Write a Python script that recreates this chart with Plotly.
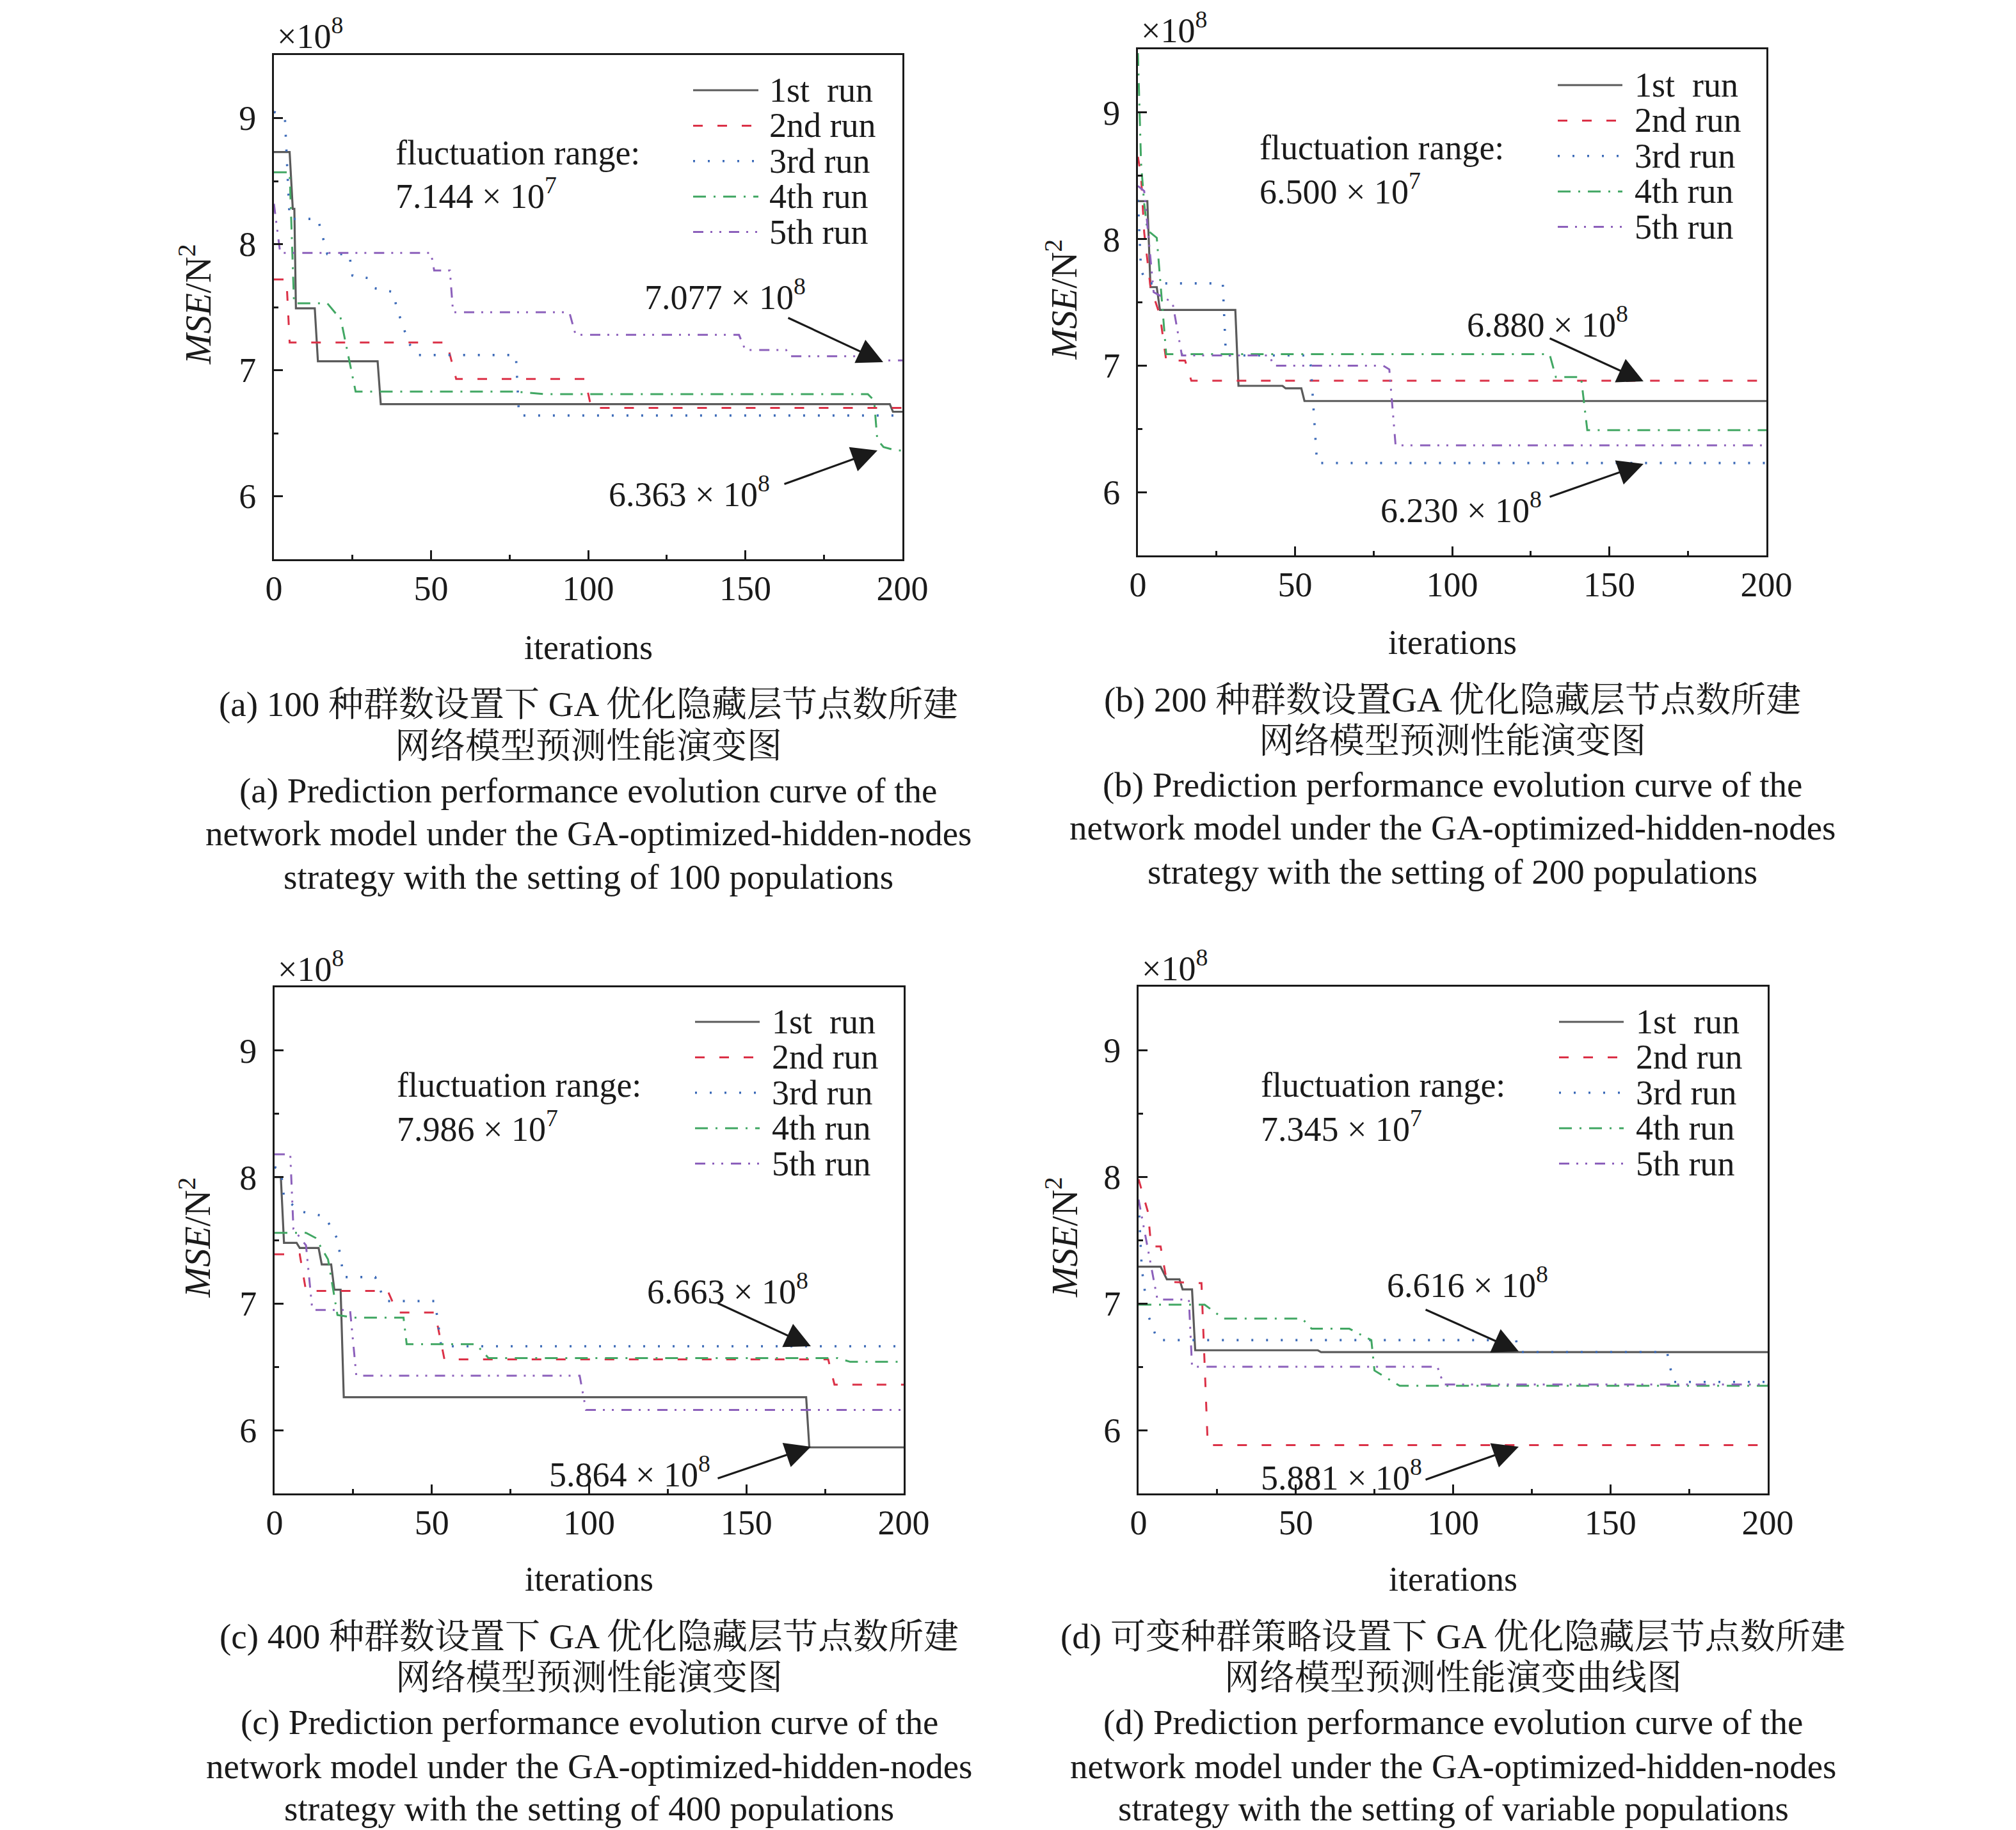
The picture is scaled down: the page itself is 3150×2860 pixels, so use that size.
import plotly.graph_objects as go

# ---------------- data (MSE in units of 1e8 N^2) ----------------
RUN_NAMES = ["1st\u00a0 run", "2nd run", "3rd run", "4th run", "5th run"]

# panel (a): 100 populations
a1_it = [0, 5, 6, 6.5, 7, 13, 14, 33, 34, 196, 197, 200]
a1_v = [8.73, 8.73, 8.28, 8.28, 7.49, 7.49, 7.07, 7.07, 6.73, 6.73, 6.67, 6.67]
a2_it = [0, 4, 5, 55, 58, 99, 101, 200]
a2_v = [7.72, 7.72, 7.22, 7.22, 6.93, 6.93, 6.70, 6.70]
a3_it = [0, 3.5, 5, 14, 17, 24, 25, 30, 32, 36, 38, 39, 43, 46, 77, 78, 200]
a3_v = [9.05, 9.00, 8.20, 8.20, 7.92, 7.92, 7.75, 7.73, 7.65, 7.63, 7.62, 7.50, 7.21, 7.12, 7.12, 6.64, 6.64]
a4_it = [0, 5, 6.4, 17, 20, 21, 26, 77, 86, 189, 191, 192, 194, 198, 200]
a4_v = [8.57, 8.57, 7.53, 7.53, 7.44, 7.44, 6.83, 6.83, 6.81, 6.81, 6.76, 6.45, 6.39, 6.363, 6.363]
a5_it = [0, 2, 50, 51, 56, 57, 94, 96, 148, 150, 163, 164, 187, 191, 200]
a5_v = [8.32, 7.93, 7.93, 7.79, 7.79, 7.46, 7.46, 7.28, 7.28, 7.16, 7.16, 7.11, 7.11, 7.077, 7.077]

# panel (b): 200 populations
b1_it = [0, 3, 4, 6, 7, 31, 32, 46, 47, 52, 53, 200]
b1_v = [8.30, 8.30, 7.62, 7.62, 7.44, 7.44, 6.84, 6.84, 6.82, 6.82, 6.72, 6.72]
b2_it = [0, 1, 2, 4, 7, 9, 15, 17, 200]
b2_v = [8.65, 8.50, 8.05, 7.62, 7.40, 7.04, 7.04, 6.88, 6.88]
b3_it = [0, 1, 3, 27, 28, 54, 55, 57, 200]
b3_v = [8.31, 7.75, 7.65, 7.65, 7.08, 7.08, 7.00, 6.23, 6.23]
b4_it = [0, 1, 2, 3, 6, 9, 131, 133, 141, 143, 200]
b4_v = [9.47, 8.60, 8.28, 8.07, 8.01, 7.09, 7.09, 6.91, 6.91, 6.49, 6.49]
b5_it = [0, 2, 5, 11, 14, 42, 43, 78, 80, 82, 200]
b5_v = [8.42, 8.38, 7.58, 7.50, 7.08, 7.08, 7.00, 7.00, 6.97, 6.37, 6.37]

# panel (c): 400 populations
c1_it = [0, 2, 3, 7, 8, 14, 15, 18, 19, 21, 22, 169, 170, 200]
c1_v = [8.00, 8.00, 7.48, 7.48, 7.44, 7.44, 7.31, 7.31, 7.11, 7.11, 6.26, 6.26, 5.864, 5.864]
c2_it = [0, 8, 10, 36, 39, 51, 54, 176, 178, 200]
c2_v = [7.39, 7.39, 7.10, 7.10, 6.93, 6.93, 6.56, 6.56, 6.36, 6.36]
c3_it = [0, 2, 3, 8, 16, 20, 22, 32, 35, 51, 53, 200]
c3_v = [8.08, 8.05, 7.84, 7.73, 7.69, 7.51, 7.21, 7.21, 7.02, 7.02, 6.663, 6.663]
c4_it = [0, 10, 13, 17, 20, 25, 41, 42, 64, 68, 179, 183, 200]
c4_v = [7.56, 7.56, 7.52, 7.35, 6.91, 6.89, 6.89, 6.68, 6.68, 6.57, 6.57, 6.54, 6.54]
c5_it = [0, 5, 6, 10, 12, 24, 26, 97, 99, 200]
c5_v = [8.18, 8.18, 7.59, 7.46, 6.95, 6.95, 6.43, 6.43, 6.16, 6.16]

# panel (d): variable populations
d1_it = [0, 7, 9, 13, 14, 17, 18, 57, 58, 200]
d1_v = [7.29, 7.29, 7.19, 7.19, 7.11, 7.11, 6.63, 6.63, 6.616, 6.616]
d2_it = [0, 3, 4, 7, 9, 20, 22, 200]
d2_v = [7.98, 7.72, 7.45, 7.45, 7.17, 7.16, 5.881, 5.881]
d3_it = [0, 1, 3, 6, 120, 121, 168, 170, 200]
d3_v = [7.81, 7.28, 6.91, 6.71, 6.71, 6.616, 6.616, 6.38, 6.38]
d4_it = [0, 21, 27, 52, 55, 67, 74, 75, 83, 200]
d4_v = [6.99, 6.99, 6.88, 6.88, 6.80, 6.80, 6.71, 6.47, 6.35, 6.35]
d5_it = [0, 4, 6, 16, 17, 95, 97, 200]
d5_v = [7.82, 7.29, 7.03, 7.03, 6.50, 6.50, 6.36, 6.36]

X_TICKS = [0, 50, 100, 150, 200]
Y_TICKS = [6, 7, 8, 9]

FLUCT = ["7.144", "6.500", "7.986", "7.345"]
MAX_LABEL = ["7.077", "6.880", "6.663", "6.616"]
MIN_LABEL = ["6.363", "6.230", "5.864", "5.881"]

CAPTIONS = [
    ["(a) 100 种群数设置下 GA 优化隐藏层节点数所建", "网络模型预测性能演变图",
     "(a) Prediction performance evolution curve of the",
     "network model under the GA-optimized-hidden-nodes",
     "strategy with the setting of 100 populations"],
    ["(b) 200 种群数设置GA 优化隐藏层节点数所建", "网络模型预测性能演变图",
     "(b) Prediction performance evolution curve of the",
     "network model under the GA-optimized-hidden-nodes",
     "strategy with the setting of 200 populations"],
    ["(c) 400 种群数设置下 GA 优化隐藏层节点数所建", "网络模型预测性能演变图",
     "(c) Prediction performance evolution curve of the",
     "network model under the GA-optimized-hidden-nodes",
     "strategy with the setting of 400 populations"],
    ["(d) 可变种群策略设置下 GA 优化隐藏层节点数所建", "网络模型预测性能演变曲线图",
     "(d) Prediction performance evolution curve of the",
     "network model under the GA-optimized-hidden-nodes",
     "strategy with the setting of variable populations"],
]

PANEL_RUNS = [
    [(a1_it, a1_v), (a2_it, a2_v), (a3_it, a3_v), (a4_it, a4_v), (a5_it, a5_v)],
    [(b1_it, b1_v), (b2_it, b2_v), (b3_it, b3_v), (b4_it, b4_v), (b5_it, b5_v)],
    [(c1_it, c1_v), (c2_it, c2_v), (c3_it, c3_v), (c4_it, c4_v), (c5_it, c5_v)],
    [(d1_it, d1_v), (d2_it, d2_v), (d3_it, d3_v), (d4_it, d4_v), (d5_it, d5_v)],
]

# ---------------- styles / layout ----------------
W, H = 3150, 2860
OFF = 8  # page body margin offset compensation
FONT = "Liberation Serif, Noto Serif CJK SC, Noto Sans CJK SC, serif"
FS = 54
FS_CAP = 55
FS_YT = 57
INK = "#1a1a1a"
STYLES = [
    dict(color="#5a5a5a", dash="solid", width=3.2),
    dict(color="#db3147", dash="15px,23px", width=3.0),
    dict(color="#3d6bb8", dash="3px,20px", width=3.6),
    dict(color="#41a763", dash="20px,12px,3px,12px", width=3.0),
    dict(color="#8c60bb", dash="16px,11px,3px,11px,3px,12px", width=3.0),
]

# plot boxes in pixels (left, right, top, bottom)
BOXES = [(428, 1410, 86, 874), (1778, 2760, 77, 868),
         (429, 1412, 1543, 2334), (1779, 2762, 1542, 2334)]
FLUCT_POS = [(616, 239, 302), (1966, 231, 296), (618, 1696, 1760), (1968, 1696, 1760)]
LEG_POS = [(1083, 1185, 1200, 141), (2434, 2535, 2552, 133),
           (1086, 1187, 1204, 1597), (2436, 2537, 2554, 1597)]
LEG_STEP = 55.4
MAX_TXT = [(1133, 461), (2418, 504), (1137, 2014), (2293, 2004)]
MAX_ARR = [((1230, 496), (1380, 566)), ((2420, 528), (2568, 596)),
           ((1120, 2036), (1267, 2104)), ((2226, 2046), (2373, 2112))]
MIN_TXT = [(1077, 768), (2283, 793), (984, 2300), (2096, 2305)]
MIN_ARR = [((1224, 757), (1371, 704)), ((2420, 777), (2568, 725)),
           ((1120, 2311), (1267, 2261)), ((2226, 2313), (2373, 2261))]
CAP_Y = [[1101, 1165, 1235, 1302, 1370], [1093, 1157, 1227, 1293, 1362],
         [2557, 2621, 2691, 2760, 2826], [2557, 2621, 2691, 2760, 2826]]
XTITLE_Y = [1012, 1004, 2468, 2468]
YTITLE_X = [305, 1659, 305, 1659]


def px(X):
    return (X - OFF) / W


def py(Y):
    return 1 - (Y - OFF) / H


fig = go.Figure()
layout = dict(width=W, height=H, margin=dict(l=0, r=0, t=0, b=0, pad=0, autoexpand=False),
              autosize=False,
              paper_bgcolor="white", plot_bgcolor="white",
              font=dict(family=FONT, size=FS, color=INK), showlegend=False)
annotations = []
shapes = []

for k, runs in enumerate(PANEL_RUNS):
    L, R, T, B = BOXES[k]
    sfx = "" if k == 0 else str(k + 1)
    xa, ya = "x" + sfx, "y" + sfx

    def dx(X, L=L, R=R):
        return (X - L) / (R - L) * 200

    def dy(Y, T=T, B=B):
        return 9.5 - (Y - T) / (B - T) * 4

    for j, (it, v) in enumerate(runs):
        st = STYLES[j]
        fig.add_trace(go.Scatter(x=it, y=v, mode="lines", name=RUN_NAMES[j].replace("\u00a0", ""),
                                 line=dict(color=st["color"], dash=st["dash"], width=st["width"]),
                                 xaxis=xa, yaxis=ya, showlegend=False, hoverinfo="skip"))

    axis_common = dict(showline=True, mirror=True, linecolor=INK, linewidth=3,
                       ticks="inside", tickwidth=3, tickcolor=INK, showgrid=False,
                       zeroline=False, automargin=False,
                       tickfont=dict(size=FS, family=FONT, color=INK))
    layout["xaxis" + sfx] = dict(axis_common, domain=[px(L), px(R)], range=[0, 200],
                                 tickvals=X_TICKS, ticklen=14, anchor=ya,
                                 ticklabelstandoff=-4,
                                 minor=dict(ticks="inside", dtick=25, tick0=0, ticklen=7,
                                            tickwidth=2.5, tickcolor=INK))
    layout["yaxis" + sfx] = dict(axis_common, domain=[py(B), py(T)], range=[5.5, 9.5],
                                 tickvals=Y_TICKS, ticklen=14, anchor=xa,
                                 ticklabelstandoff=14,
                                 minor=dict(ticks="inside", dtick=0.5, tick0=6, ticklen=7,
                                            tickwidth=2.5, tickcolor=INK))

    annotations.append(dict(x=px(L + 3), y=py(T - 33), xref="paper", yref="paper",
                            text="×10<sup>8</sup>", showarrow=False, xanchor="left",
                            yanchor="middle", font=dict(size=FS)))
    annotations.append(dict(x=px(YTITLE_X[k]), y=py((T + B) / 2 - 4), xref="paper", yref="paper",
                            text="<i>MSE</i>/N<sup>2</sup>", textangle=-90, showarrow=False,
                            xanchor="center", yanchor="middle", font=dict(size=FS_YT)))
    annotations.append(dict(x=px((L + R) / 2), y=py(XTITLE_Y[k]), xref="paper", yref="paper",
                            text="iterations", showarrow=False, xanchor="center",
                            yanchor="middle", font=dict(size=FS)))
    fx, fy1, fy2 = FLUCT_POS[k]
    annotations.append(dict(x=px(fx), y=py(fy1), xref="paper", yref="paper",
                            text="fluctuation range:", showarrow=False, xanchor="left",
                            yanchor="middle", font=dict(size=FS)))
    annotations.append(dict(x=px(fx), y=py(fy2), xref="paper", yref="paper",
                            text=FLUCT[k] + " × 10<sup>7</sup>", showarrow=False,
                            xanchor="left", yanchor="middle", font=dict(size=FS)))
    lx0, lx1, tx, ty0 = LEG_POS[k]
    for j in range(5):
        yy = ty0 + j * LEG_STEP
        st = STYLES[j]
        shapes.append(dict(type="line", xref="paper", yref="paper",
                           x0=px(lx0), x1=px(lx1), y0=py(yy), y1=py(yy),
                           line=dict(color=st["color"], dash=st["dash"], width=st["width"])))
        annotations.append(dict(x=px(tx), y=py(yy), xref="paper", yref="paper",
                                text=RUN_NAMES[j], showarrow=False, xanchor="left",
                                yanchor="middle", font=dict(size=FS)))
    for txt, tpos, arr in ((MAX_LABEL[k], MAX_TXT[k], MAX_ARR[k]),
                           (MIN_LABEL[k], MIN_TXT[k], MIN_ARR[k])):
        annotations.append(dict(x=px(tpos[0]), y=py(tpos[1]), xref="paper", yref="paper",
                                text=txt + " × 10<sup>8</sup>", showarrow=False,
                                xanchor="center", yanchor="middle", font=dict(size=FS)))
        (tx0, ty0a), (hx, hy) = arr
        annotations.append(dict(x=dx(hx), y=dy(hy), xref=xa, yref=ya,
                                ax=dx(tx0), ay=dy(ty0a), axref=xa, ayref=ya,
                                text="", showarrow=True, arrowhead=2, arrowsize=2.5,
                                arrowwidth=3.2, arrowcolor=INK, standoff=0, startstandoff=0,
                                font=dict(size=FS)))
    for line, cy in zip(CAPTIONS[k], CAP_Y[k]):
        annotations.append(dict(x=px((L + R) / 2), y=py(cy), xref="paper", yref="paper",
                                text=line, showarrow=False, xanchor="center",
                                yanchor="middle", font=dict(size=FS_CAP)))

layout["annotations"] = annotations
layout["shapes"] = shapes
fig.update_layout(**layout)
fig.write_html("out.html")
